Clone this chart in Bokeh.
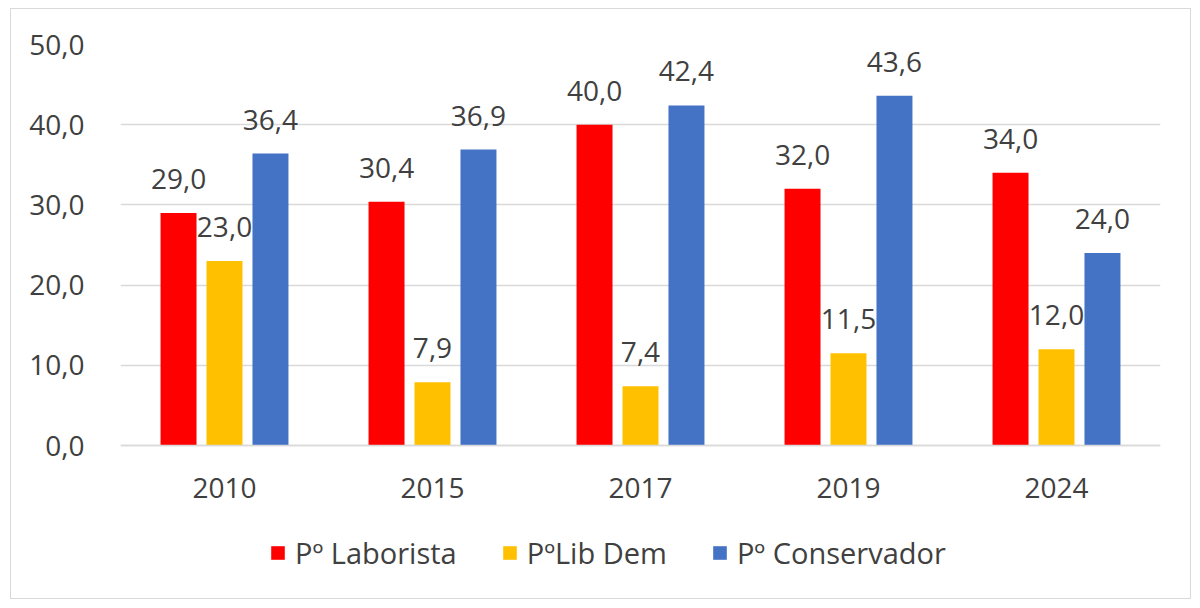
from bokeh.plotting import figure
from bokeh.models import ColumnDataSource, FactorRange, Legend, LegendItem, FixedTicker, Range1d
from bokeh.core.properties import value
from bokeh.transform import dodge
from bokeh.embed import file_html
from bokeh.resources import INLINE

years = ["2010", "2015", "2017", "2019", "2024"]
laborista = [29.0, 30.4, 40.0, 32.0, 34.0]
libdem = [23.0, 7.9, 7.4, 11.5, 12.0]
conservador = [36.4, 36.9, 42.4, 43.6, 24.0]
series_names = ["Pº Laborista", "PºLib Dem", "Pº Conservador"]
colors = ["#FF0000", "#FFC000", "#4472C4"]
y_ticks = [0, 10, 20, 30, 40, 50]

def fmt(v):
    return f"{v:.1f}".replace(".", ",")

src = ColumnDataSource(dict(
    years=years,
    lab=laborista, lib=libdem, con=conservador,
    lab_t=[fmt(v) for v in laborista],
    lib_t=[fmt(v) for v in libdem],
    con_t=[fmt(v) for v in conservador],
))

FONT = "Open Sans"
TXT = "#404040"

# frame: 0..50 spans 401 px; extra room below the zero line holds axis labels and legend
PX_PER_UNIT = 401 / 50
FRAME_H = 554
y_start = -(FRAME_H - 401) / PX_PER_UNIT

p = figure(x_range=FactorRange(*years), y_range=Range1d(y_start, 50),
           width=1181, height=591, output_backend="svg", toolbar_location=None,
           min_border_left=109, min_border_right=32, min_border_top=35, min_border_bottom=2)
p.margin = (8, 0, 0, 10)
p.styles = {"border": "1px solid #D9D9D9"}
p.outline_line_color = None
p.background_fill_color = "white"
p.border_fill_color = "white"

p.x_range.range_padding = 0.0

offsets = [-0.221, 0.0, 0.221]
keys = ["lab", "lib", "con"]
renderers = []
for off, k, c in zip(offsets, keys, colors):
    r = p.vbar(x=dodge("years", off, range=p.x_range), top=k, width=0.173,
               source=src, color=c, line_color=None)
    renderers.append(r)
    p.text(x=dodge("years", off, range=p.x_range), y=k, text=k + "_t", source=src,
           text_align="center", text_baseline="alphabetic", y_offset=-34,
           text_font=value(FONT), text_font_size="28px", text_color=TXT)

p.yaxis.ticker = FixedTicker(ticks=y_ticks)
p.yaxis.major_label_overrides = {t: fmt(t) for t in y_ticks}
p.ygrid.ticker = FixedTicker(ticks=y_ticks)
p.ygrid.grid_line_color = "#D9D9D9"
p.ygrid.grid_line_width = 1.5
p.xgrid.grid_line_color = None

for ax in (p.xaxis, p.yaxis):
    ax.major_tick_line_color = None
    ax.minor_tick_line_color = None
    ax.major_label_text_font = FONT
    ax.major_label_text_font_size = "28px"
    ax.major_label_text_color = TXT
p.yaxis.axis_line_color = None
p.yaxis.major_label_standoff = 30
p.xaxis.axis_line_color = "#D9D9D9"
p.xaxis.axis_line_width = 1.5
p.xaxis.major_label_standoff = 26
p.xaxis.fixed_location = 0

legend = Legend(items=[LegendItem(label=n, renderers=[r]) for n, r in zip(series_names, renderers)],
                orientation="horizontal", location=(149, 26),
                label_text_font=FONT, label_text_font_size="29px", label_text_color=TXT,
                glyph_width=17, glyph_height=17, label_standoff=9, spacing=44,
                border_line_color=None, background_fill_color=None, padding=0, margin=0)
p.add_layout(legend, "center")

open("out.html", "w").write(file_html(p, INLINE))
